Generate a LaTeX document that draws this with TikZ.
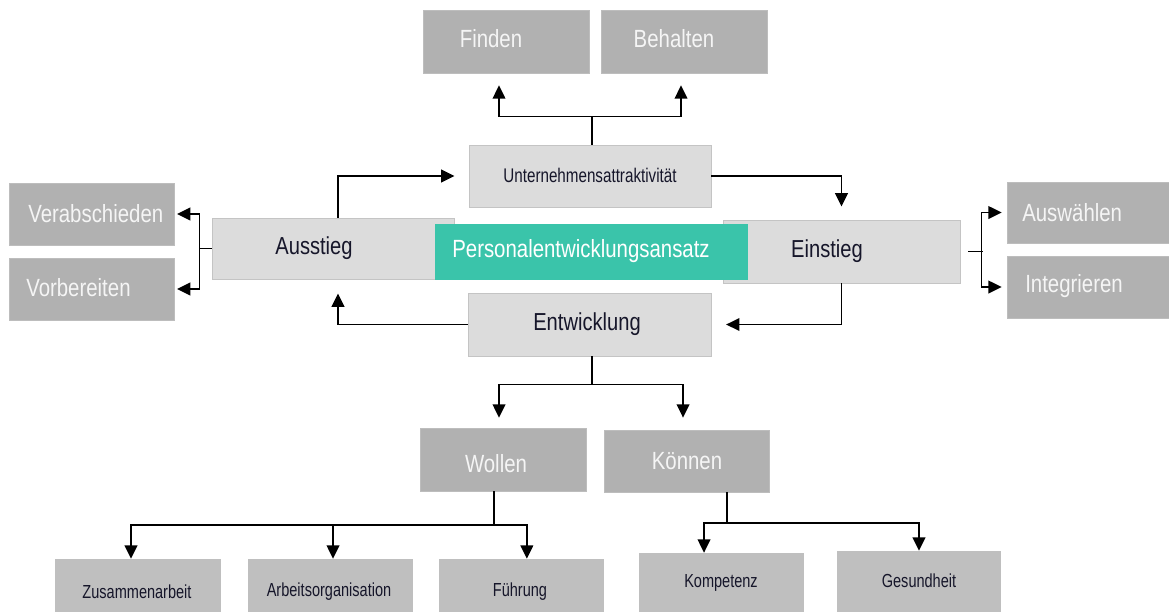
\documentclass[tikz,border=0pt]{standalone}
\usepackage{fontspec}
\setmainfont{Liberation Sans}
\usepackage{graphicx}
\usetikzlibrary{fit,arrows.meta}
\definecolor{gdark}{HTML}{B1B1B1}
\definecolor{gbot}{HTML}{BFBFBF}
\definecolor{glight}{HTML}{DCDCDC}
\definecolor{gline}{HTML}{C4C4C4}
\definecolor{tealbox}{HTML}{3AC4AA}
\definecolor{txtw}{HTML}{F5F5F5}
\definecolor{txtd}{HTML}{16162A}
\newcommand{\tb}[1]{\scalebox{1}[1.22]{#1}}
\newcommand{\tsm}[1]{\scalebox{1}[1.3]{#1}}
\begin{document}
\begin{tikzpicture}[x=0.75pt,y=-0.75pt,
  dbox/.style={rectangle, inner sep=0pt, fill=gdark, draw=gdark!85!white, line width=0.5pt},
  bbox/.style={rectangle, inner sep=0pt, fill=gbot},
  lbox/.style={rectangle, inner sep=0pt, fill=glight, draw=gline, line width=0.7pt},
  gbox/.style={rectangle, inner sep=0pt, fill=tealbox},
  bigw/.style={inner sep=0pt, font=\fontsize{15.3}{18}\selectfont, text=txtw},
  bigd/.style={inner sep=0pt, font=\fontsize{15.1}{18}\selectfont, text=txtd},
  smalld/.style={inner sep=0pt, font=\fontsize{10.9}{13}\selectfont, text=txtd},
  ln/.style={draw=black, line width=1.3pt},
  arr/.style={ln, -{Triangle[length=10pt,width=9.5pt]}}]
\clip (0,0) rectangle (1169,611);
\fill[white] (0,0) rectangle (1169,611);

% top boxes
\node[dbox, fit={(423,10)(589,73)}] (finden) {};
\node[bigw] (finden-t) at (491,39) {\tb{Finden}};
\node[dbox, fit={(601,10)(767,73)}] (behalten) {};
\node[bigw] (behalten-t) at (674,39) {\tb{Behalten}};

\node[lbox, fit={(469,145)(711,207)}] (unt) {};
\node[smalld, font=\fontsize{11.4}{13}\selectfont] (unt-t) at (590,175) {\tsm{Unternehmensattraktivität}};

% middle row
\node[lbox, fit={(212,218)(454,279)}] (aus) {};
\node[bigd] (aus-t) at (314,248) {\tb{Ausstieg}};
\node[lbox, fit={(723,220)(960,283)}] (ein) {};
\node[bigd] (ein-t) at (827,251) {\tb{Einstieg}};
\node[gbox, fit={(435,224)(748,280)}] (pea) {};
\node[bigw, text=white] (pea-t) at (581,251) {\tb{Personalentwicklungsansatz}};

\node[lbox, fit={(468,293)(711,356)}] (ent) {};
\node[bigd] (ent-t) at (587,324) {\tb{Entwicklung}};

% left boxes
\node[dbox, fit={(9,183)(174,245)}] (ver) {};
\node[bigw, anchor=west] (ver-t) at (28,214) {\tb{Verabschieden}};
\node[dbox, fit={(9,258)(174,320)}] (vor) {};
\node[bigw, anchor=west] (vor-t) at (26,288) {\tb{Vorbereiten}};

% right boxes
\node[dbox, fit={(1007,182)(1175,243)}] (ausw) {};
\node[bigw, anchor=west] (ausw-t) at (1022,213) {\tb{Auswählen}};
\node[dbox, fit={(1007,256)(1175,318)}] (integ) {};
\node[bigw, anchor=west] (integ-t) at (1025,286) {\tb{Integrieren}};

% Wollen / Können
\node[dbox, fit={(420,428)(586,491)}] (wol) {};
\node[bigw] (wol-t) at (496,464) {\tb{Wollen}};
\node[dbox, fit={(604,430)(769,492)}] (kon) {};
\node[bigw] (kon-t) at (687,461) {\tb{Können}};

% bottom boxes
\node[bbox, fit={(55,559)(221,620)}] (zus) {};
\node[smalld] (zus-t) at (137,592) {\tsm{Zusammenarbeit}};
\node[bbox, fit={(248,559)(413,620)}] (arb) {};
\node[smalld] (arb-t) at (329,592) {\tsm{Arbeitsorganisation}};
\node[bbox, fit={(439,559)(604,620)}] (fue) {};
\node[smalld] (fue-t) at (520,592) {\tsm{Führung}};
\node[bbox, fit={(639,553)(804,620)}] (kom) {};
\node[smalld] (kom-t) at (721,583) {\tsm{Kompetenz}};
\node[bbox, fit={(837,551)(1001,620)}] (ges) {};
\node[smalld] (ges-t) at (919,581) {\tsm{Gesundheit}};

% connectors: Unternehmensattraktivität -> Finden / Behalten
\draw[ln] ([xshift=1.5pt]unt.north) -- ++(0,-28) coordinate (j1);
\draw[arr, shorten >=9pt] (j1) -| ([xshift=-5.25pt]finden.south);
\draw[arr, shorten >=9pt] (j1) -| ([xshift=-2.25pt]behalten.south);

% cycle
\draw[arr, shorten >=10.5pt] ([xshift=3.75pt]aus.north) |- (unt.west);
\draw[arr, shorten >=9.75pt] (unt.east) -| (ein.north);
\draw[arr, shorten >=11pt] (ein.south) |- (ent.east);
\draw[arr, shorten >=10.5pt] (ent.west) -| ([xshift=3.75pt]aus.south);

% Ausstieg -> left
\draw[ln] (aus.west) -- ++(-12,0) coordinate (j5);
\draw[arr, shorten >=2pt] (j5) |- (ver.east);
\draw[arr, shorten >=2pt] (j5) |- (vor.east);

% Einstieg -> right
\draw[ln] ([xshift=6pt]ein.east) -- ++(15,0) coordinate (j6);
\draw[arr, shorten >=3.75pt] ([xshift=-1.5pt]j6) |- (ausw.west);
\draw[arr, shorten >=3.75pt] ([xshift=-1.5pt]j6) |- (integ.west);

% Entwicklung -> Wollen / Können
\draw[ln] ([xshift=1.9pt]ent.south) -- ++(0,28) coordinate (j2);
\draw[arr, shorten >=7.5pt] (j2) -| ([xshift=-3pt]wol.north);
\draw[arr, shorten >=9pt] (j2) -| ([xshift=-2.6pt]kon.north);

% Wollen -> bottom
\draw[ln] ([xshift=-6.75pt]wol.south) -- ++(0,34) coordinate (j3);
\draw[arr] (j3) -| ([xshift=-5.25pt]zus.north);
\draw[arr] (j3) -| ([xshift=1.9pt]arb.north);
\draw[arr] (j3) -| ([xshift=4pt]fue.north);

% Können -> bottom
\draw[ln] ([xshift=30.4pt]kon.south) -- ++(0,32) coordinate (j4end);
\coordinate (j4) at ([yshift=0.75pt]j4end);
\draw[arr] (j4) -| ([xshift=-13.1pt]kom.north);
\draw[arr] (j4) -| (ges.north);
\end{tikzpicture}
\end{document}
